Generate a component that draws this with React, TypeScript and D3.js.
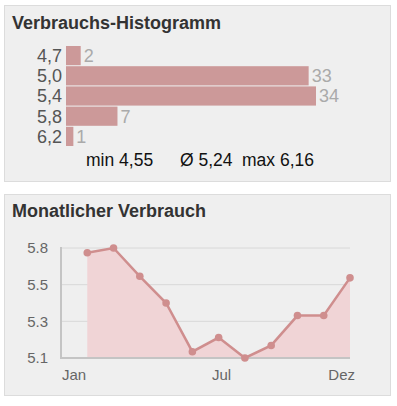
import React from "react";
import * as d3 from "d3";

const histCategories = ["4,7", "5,0", "5,4", "5,8", "6,2"];
const histCounts = [2, 33, 34, 7, 1];
const statMin = "min 4,55";
const statAvg = "Ø 5,24";
const statMax = "max 6,16";

const monthNames = ["Jan", "Feb", "Mär", "Apr", "Mai", "Jun", "Jul", "Aug", "Sep", "Okt", "Nov", "Dez"];
const dataMonths = [1, 2, 3, 4, 5, 6, 7, 8, 9, 10, 11];
const monthValues = [5.77, 5.8, 5.62, 5.45, 5.14, 5.23, 5.1, 5.18, 5.37, 5.37, 5.61];
const yTickValues = [5.1, 5.3333, 5.5667, 5.8];
const yTickLabels = ["5.1", "5.3", "5.5", "5.8"];
const xTickMonths = [0, 6, 11];

const FONT = "'Liberation Sans', Arial, Helvetica, sans-serif";

export default function App() {
  // histogram
  const xBar = d3.scaleLinear().domain([0, 34]).range([0, 250]);
  const yBar = d3.scaleBand().domain(histCategories).range([46, 146]).paddingInner(0.05).paddingOuter(0.0);
  const barX0 = 66;

  // line chart
  const x = d3.scaleLinear().domain([0, 11]).range([61, 350]);
  const y = d3.scaleLinear().domain([5.1, 5.8]).range([358, 248]);
  const pts = dataMonths.map((m, i) => ({ m, v: monthValues[i] }));
  const line = d3.line<{ m: number; v: number }>().x((d) => x(d.m)).y((d) => y(d.v));
  const area = d3
    .area<{ m: number; v: number }>()
    .x((d) => x(d.m))
    .y0(y(5.1))
    .y1((d) => y(d.v));

  const anchors = ["start", "middle", "end"];
  const offsets = [1, 3, 5];

  return (
    <svg
      width={397}
      height={406}
      style={{ position: "absolute", left: 0, top: 0, fontFamily: FONT }}
    >
      <rect x={0} y={0} width={397} height={406} fill="#ffffff" />
      {/* panel 1 */}
      <rect x={4.5} y={5.5} width={386} height={176} fill="#efefef" stroke="#dcdcdc" />
      <text x={12} y={29} fontSize={18} fontWeight="bold" fill="#333">
        Verbrauchs-Histogramm
      </text>
      {histCategories.map((c, i) => {
        const yy = yBar(c)!;
        const h = yBar.bandwidth();
        const w = xBar(histCounts[i]);
        return (
          <g key={c}>
            <text x={62} y={yy + h / 2} dy="0.36em" textAnchor="end" fontSize={18} fill="#555">
              {c}
            </text>
            <rect x={barX0} y={yy} width={w} height={h} fill="#cc9999" />
            <text x={barX0 + w + 3} y={yy + h / 2} dy="0.36em" fontSize={18} fill="#aaa">
              {histCounts[i]}
            </text>
          </g>
        );
      })}
      <text x={86} y={166} fontSize={17.5} fill="#111">{statMin}</text>
      <text x={180} y={166} fontSize={17.5} fill="#111">{statAvg}</text>
      <text x={242} y={166} fontSize={17.5} fill="#111">{statMax}</text>

      {/* panel 2 */}
      <rect x={4.5} y={194.5} width={386} height={201} fill="#efefef" stroke="#dcdcdc" />
      <text x={12} y={217} fontSize={18} fontWeight="bold" fill="#333">
        Monatlicher Verbrauch
      </text>
      {yTickValues.map((t, i) => (
        <g key={t}>
          {i > 0 && (
            <line x1={61} x2={350} y1={y(t)} y2={y(t)} stroke="#d8d8d8" strokeWidth={1} />
          )}
          <text x={48} y={y(t)} dy="0.36em" textAnchor="end" fontSize={15} fill="#666">
            {yTickLabels[i]}
          </text>
        </g>
      ))}
      <path d={area(pts)!} fill="#f0d4d6" />
      <line x1={61} x2={61} y1={247} y2={359} stroke="#c4c4c4" strokeWidth={2} />
      <line x1={60} x2={350} y1={358} y2={358} stroke="#c4c4c4" strokeWidth={2} />
      <path d={line(pts)!} fill="none" stroke="#cf8e8e" strokeWidth={2.5} />
      {pts.map((p) => (
        <circle key={p.m} cx={x(p.m)} cy={y(p.v)} r={3.8} fill="#cf8e8e" />
      ))}
      {xTickMonths.map((m, i) => (
        <text
          key={m}
          x={x(m) + offsets[i]}
          y={380}
          textAnchor={anchors[i]}
          fontSize={15}
          fill="#666"
        >
          {monthNames[m]}
        </text>
      ))}
    </svg>
  );
}
